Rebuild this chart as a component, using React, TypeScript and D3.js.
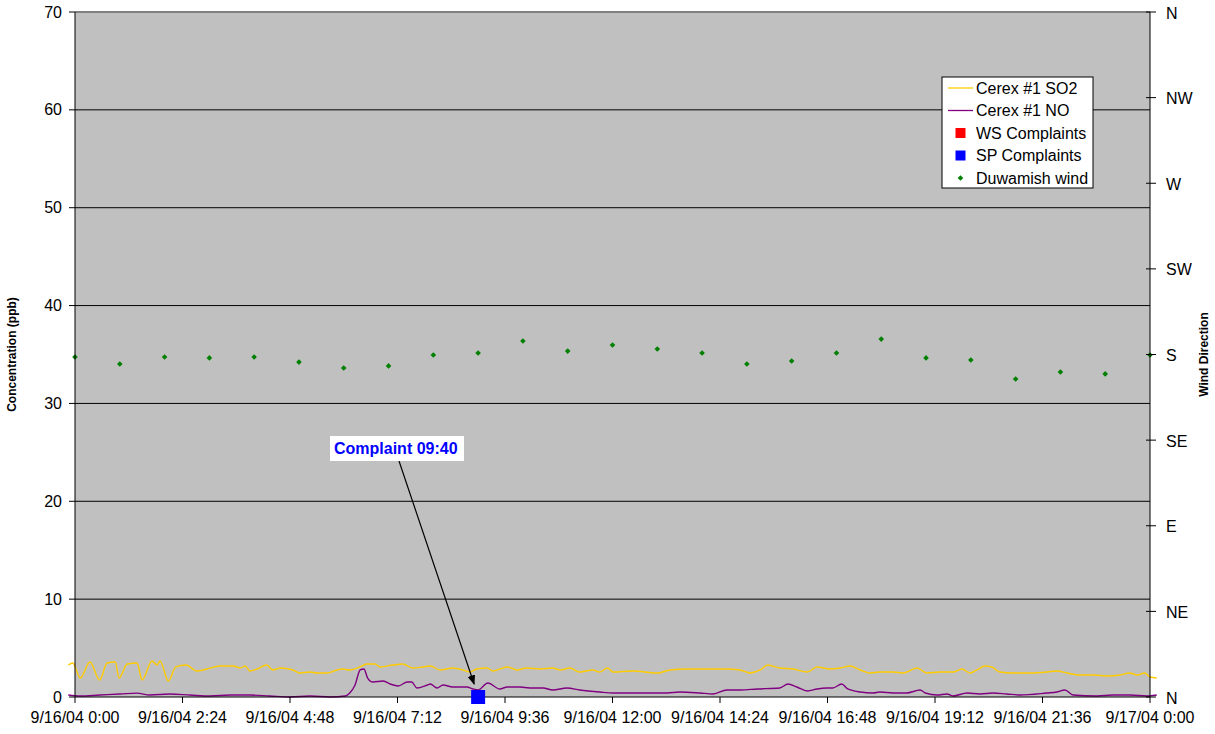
import React from "react";
import * as d3 from "d3";

// minutes after 9/16/04 0:00, concentration in ppb
const so2Minutes = [-9, -3, 7, 20, 33, 43, 54, 59, 70, 83, 90, 103, 110, 114, 125, 135, 149, 163, 177, 194, 212, 221, 228, 234, 244, 257, 265, 275, 292, 301, 315, 324, 338, 351, 358, 368, 382, 391, 402, 409, 426, 439, 453, 466, 476, 489, 506, 520, 529, 538, 552, 560, 579, 592, 605, 623, 640, 650, 663, 676, 694, 703, 713, 721, 747, 780, 797, 820, 847, 873, 891, 904, 918, 928, 944, 962, 981, 994, 1011, 1025, 1038, 1052, 1065, 1078, 1096, 1109, 1128, 1141, 1159, 1176, 1188, 1199, 1208, 1219, 1228, 1239, 1256, 1279, 1302, 1315, 1329, 1346, 1364, 1382, 1400, 1413, 1423, 1433, 1440, 1449];
const so2Values = [3.27, 3.47, 1.94, 3.58, 1.74, 3.47, 3.58, 1.94, 3.37, 3.47, 1.74, 3.68, 3.27, 3.68, 1.63, 3.07, 3.27, 2.66, 2.86, 3.17, 3.17, 2.96, 3.17, 2.66, 2.86, 3.27, 2.76, 2.96, 2.76, 2.45, 2.55, 2.45, 2.45, 2.76, 2.86, 2.76, 3.07, 3.37, 3.37, 3.07, 3.27, 3.37, 2.96, 3.07, 3.17, 2.76, 2.96, 2.76, 2.55, 2.86, 2.96, 2.66, 3.07, 2.76, 2.96, 2.86, 2.96, 2.76, 2.96, 2.55, 2.76, 2.55, 2.96, 2.55, 2.66, 2.45, 2.76, 2.86, 2.86, 2.86, 2.76, 2.45, 2.76, 3.27, 2.96, 2.86, 2.55, 3.07, 2.86, 2.96, 3.17, 2.76, 2.45, 2.55, 2.55, 2.45, 2.96, 2.45, 2.55, 2.55, 2.86, 2.45, 2.76, 3.17, 3.07, 2.55, 2.45, 2.45, 2.55, 2.66, 2.45, 2.25, 2.25, 2.15, 2.25, 2.45, 2.25, 2.45, 2.04, 1.94];

const noMinutes = [-9, 7, 33, 60, 83, 100, 127, 154, 181, 208, 234, 261, 288, 315, 342, 362, 368, 375, 382, 387, 392, 399, 413, 422, 433, 445, 451, 458, 472, 476, 485, 493, 506, 525, 533, 540, 553, 569, 579, 596, 609, 627, 640, 659, 676, 703, 721, 747, 774, 793, 810, 837, 855, 873, 891, 914, 944, 955, 967, 981, 994, 1007, 1015, 1027, 1035, 1052, 1069, 1078, 1096, 1114, 1132, 1139, 1155, 1168, 1176, 1195, 1212, 1230, 1248, 1266, 1302, 1315, 1326, 1337, 1369, 1390, 1413, 1436, 1449];
const noValues = [0.2, 0.1, 0.2, 0.3, 0.4, 0.2, 0.3, 0.2, 0.1, 0.2, 0.2, 0.1, 0.0, 0.1, 0.0, 0.1, 0.4, 1.2, 2.76, 2.86, 1.94, 1.53, 1.63, 1.33, 1.12, 1.53, 1.53, 0.92, 1.23, 1.33, 0.92, 1.23, 1.02, 1.02, 0.82, 0.72, 1.43, 0.82, 1.02, 1.02, 0.92, 0.92, 0.72, 0.92, 0.72, 0.51, 0.41, 0.41, 0.41, 0.41, 0.51, 0.41, 0.31, 0.72, 0.72, 0.82, 0.92, 1.33, 1.02, 0.61, 0.82, 0.92, 0.92, 1.33, 0.82, 0.51, 0.41, 0.51, 0.41, 0.41, 0.72, 0.41, 0.2, 0.31, 0.1, 0.41, 0.31, 0.41, 0.31, 0.2, 0.41, 0.51, 0.72, 0.2, 0.1, 0.2, 0.2, 0.1, 0.2];

// hourly Duwamish wind direction (degrees)
const windMinutes = [0, 60, 120, 180, 240, 300, 360, 420, 480, 540, 600, 660, 720, 780, 840, 900, 960, 1020, 1080, 1140, 1200, 1260, 1320, 1380, 1440];
const windDegrees = [178.7, 175, 178.7, 178.2, 178.7, 176, 172.9, 174, 179.7, 180.8, 187.1, 181.8, 185, 182.9, 180.8, 175, 176.6, 180.8, 188.1, 178.2, 177.1, 167.1, 170.8, 169.8, 179.7];

const spComplaintMinutes = [540];
const spComplaintValues = [0];
const wsComplaintMinutes: number[] = [];
const wsComplaintValues: number[] = [];
const annotationText = "Complaint 09:40";

const xTickMinutes = [0, 144, 288, 432, 576, 720, 864, 1008, 1152, 1296, 1440];
const xTickLabels = ["9/16/04 0:00", "9/16/04 2:24", "9/16/04 4:48", "9/16/04 7:12", "9/16/04 9:36", "9/16/04 12:00", "9/16/04 14:24", "9/16/04 16:48", "9/16/04 19:12", "9/16/04 21:36", "9/17/04 0:00"];
const yTicks = [0, 10, 20, 30, 40, 50, 60, 70];
const dirTicks = [0, 45, 90, 135, 180, 225, 270, 315, 360];
const dirLabels = ["N", "NE", "E", "SE", "S", "SW", "W", "NW", "N"];

const legendItems = [
  { label: "Cerex #1 SO2", kind: "line", color: "#FFCC00" },
  { label: "Cerex #1 NO", kind: "line", color: "#800080" },
  { label: "WS Complaints", kind: "square", color: "#FF0000" },
  { label: "SP Complaints", kind: "square", color: "#0000FF" },
  { label: "Duwamish wind", kind: "diamond", color: "#008000" },
];

const W = 1215, H = 734;
const L = 75, R = 1150, T = 12, B = 697;
const FONT = "'Liberation Sans', Arial, sans-serif";

export default function App() {
  const x = d3.scaleLinear().domain([0, 1440]).range([L, R]);
  const y = d3.scaleLinear().domain([0, 70]).range([B, T]);
  const yDir = d3.scaleLinear().domain([0, 360]).range([B, T]);

  const so2 = so2Minutes.map((m, i) => [m, so2Values[i]] as [number, number]);
  const no = noMinutes.map((m, i) => [m, noValues[i]] as [number, number]);
  const line = d3.line<[number, number]>().x(d => x(d[0])).y(d => y(d[1])).curve(d3.curveMonotoneX);
  const diamond = d3.symbol().type(d3.symbolDiamond2).size(20)()!;

  const cx = x(spComplaintMinutes[0]);
  const cy = y(spComplaintValues[0]);
  const boxX = 330, boxY = 436, boxW = 134, boxH = 25;
  const arrowStart: [number, number] = [399, boxY + boxH];
  const arrowEnd: [number, number] = [cx - 4, cy - 13];

  const legX = 942, legY = 77, legW = 151, legH = 111, rowH = 22.5;

  return (
    <div style={{ position: "absolute", left: 0, top: 0 }}>
      <svg width={W} height={H} style={{ display: "block", fontFamily: FONT }}>
        <defs>
          <marker id="arr" viewBox="0 0 10 10" refX="9" refY="5" markerWidth="8" markerHeight="8" orient="auto">
            <path d="M0,1 L10,5 L0,9 z" fill="#000" />
          </marker>
        </defs>
        <rect x={0} y={0} width={W} height={H} fill="#fff" />
        <rect x={L} y={T} width={R - L} height={B - T} fill="#C0C0C0" />
        {yTicks.filter(t => t > 0 && t < 70).map(t => (
          <line key={t} x1={L} x2={R} y1={y(t)} y2={y(t)} stroke="#000" strokeWidth={1} />
        ))}
        <line x1={L} x2={R} y1={T} y2={T} stroke="#808080" strokeWidth={2} />

        {/* series */}
        <path d={line(so2)!} fill="none" stroke="#FFCC00" strokeWidth={1.4} />
        <path d={line(no)!} fill="none" stroke="#800080" strokeWidth={1.4} />
        {windMinutes.map((m, i) => (
          <path key={i} d={diamond} transform={`translate(${x(m)},${yDir(windDegrees[i])})`} fill="#008000" />
        ))}
        {wsComplaintMinutes.map((m, i) => (
          <rect key={i} x={x(m) - 7} y={y(wsComplaintValues[i]) - 7} width={14} height={14} fill="#FF0000" />
        ))}

        {/* axes */}
        <line x1={L} x2={L} y1={T} y2={B} stroke="#000" strokeWidth={1} />
        <line x1={R} x2={R} y1={T} y2={B} stroke="#000" strokeWidth={1} />
        <line x1={L} x2={R} y1={B} y2={B} stroke="#000" strokeWidth={1} />
        {yTicks.map(t => (
          <g key={t}>
            <line x1={L - 6} x2={L} y1={y(t)} y2={y(t)} stroke="#000" />
            <text x={62} y={y(t)} dy="0.35em" textAnchor="end" fontSize={16} fill="#000">{t}</text>
          </g>
        ))}
        {dirTicks.map((t, i) => (
          <g key={t}>
            <line x1={R - 4} x2={R + 6} y1={yDir(t)} y2={yDir(t)} stroke="#000" />
            <text x={1166} y={yDir(t) + 1} dy="0.35em" textAnchor="start" fontSize={16} fill="#000">{dirLabels[i]}</text>
          </g>
        ))}
        {xTickMinutes.map((m, i) => (
          <g key={m}>
            <line x1={x(m)} x2={x(m)} y1={B} y2={B + 6} stroke="#000" />
            <text x={x(m)} y={723} textAnchor="middle" fontSize={16} fill="#000">{xTickLabels[i]}</text>
          </g>
        ))}
        <text transform={`translate(16,${(T + B) / 2}) rotate(-90)`} textAnchor="middle" fontSize={12} fontWeight="bold" fill="#000">Concentration (ppb)</text>
        <text transform={`translate(1208,${(T + B) / 2}) rotate(-90)`} textAnchor="middle" fontSize={12} fontWeight="bold" fill="#000">Wind Direction</text>

        {/* complaint marker and annotation */}
        {spComplaintMinutes.map((m, i) => (
          <rect key={i} x={x(m) - 7} y={y(spComplaintValues[i]) - 7} width={14} height={14} fill="#0000FF" />
        ))}
        <line x1={arrowStart[0]} y1={arrowStart[1]} x2={arrowEnd[0]} y2={arrowEnd[1]} stroke="#000" strokeWidth={1.2} markerEnd="url(#arr)" />
        <rect x={boxX} y={boxY} width={boxW} height={boxH} fill="#fff" />
        <text x={boxX + 4} y={boxY + 17.5} fontSize={16} fontWeight="bold" fill="#0000FF">{annotationText}</text>

        {/* legend */}
        <rect x={legX} y={legY} width={legW} height={legH} fill="#fff" stroke="#000" strokeWidth={1} />
        {legendItems.map((it, i) => {
          const ry = legY + 11 + i * rowH;
          return (
            <g key={it.label}>
              {it.kind === "line" && <line x1={948} x2={973} y1={ry} y2={ry} stroke={it.color} strokeWidth={1.3} />}
              {it.kind === "square" && <rect x={955.5} y={ry - 5} width={10} height={10} fill={it.color} />}
              {it.kind === "diamond" && <path d={diamond} transform={`translate(960.5,${ry})`} fill={it.color} />}
              <text x={976} y={ry} dy="0.36em" fontSize={16} fill="#000">{it.label}</text>
            </g>
          );
        })}
      </svg>
    </div>
  );
}
